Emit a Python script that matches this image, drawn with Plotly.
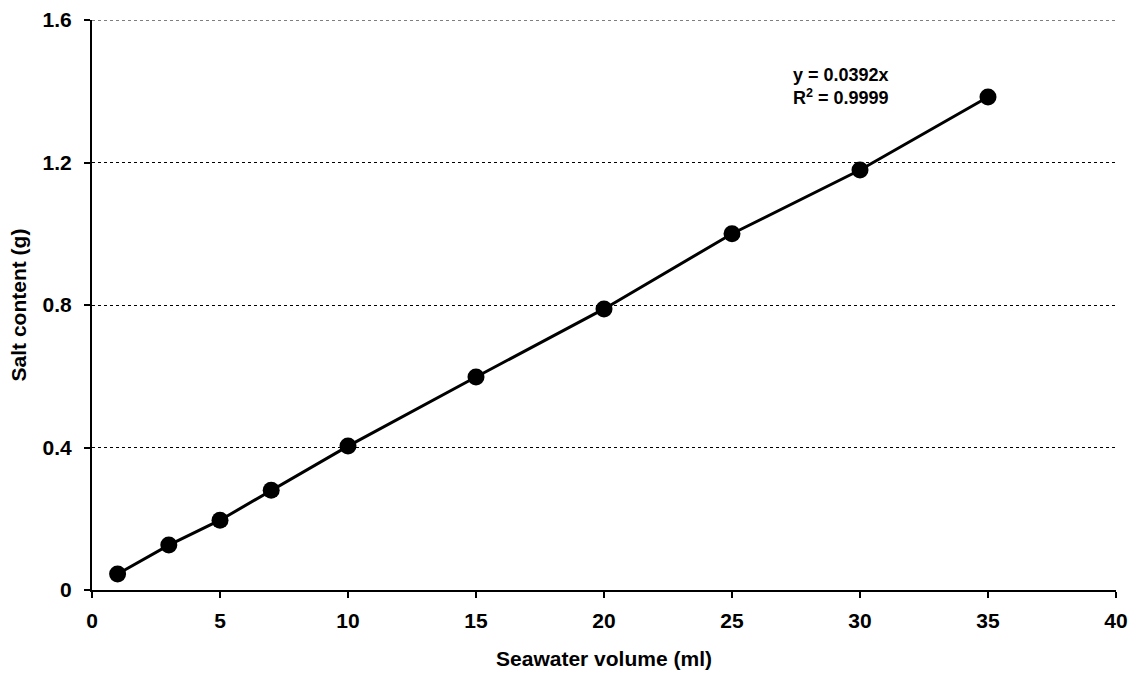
import plotly.graph_objects as go

volume_ml = [1, 3, 5, 7, 10, 15, 20, 25, 30, 35]
salt_g = [0.045, 0.126, 0.196, 0.28, 0.404, 0.598, 0.789, 1.0, 1.179, 1.384]
x_ticks = [0, 5, 10, 15, 20, 25, 30, 35, 40]
y_ticks = [0, 0.4, 0.8, 1.2, 1.6]
y_tick_labels = ["0", "0.4", "0.8", "1.2", "1.6"]

FONT = "Arial, Liberation Sans, sans-serif"

fig = go.Figure()
fig.add_trace(go.Scatter(
    x=volume_ml, y=salt_g, mode="lines+markers",
    line=dict(color="black", width=3),
    marker=dict(color="black", size=17),
    showlegend=False,
))

fig.add_annotation(
    x=27.3, y=1.48, xref="x", yref="y", xanchor="left", yanchor="top",
    text="<b>y = 0.0392x<br>R<sup>2</sup> = 0.9999</b>",
    showarrow=False, align="left",
    font=dict(family=FONT, size=18, color="black"),
)

# top gridline at the upper end of the y range
fig.add_shape(type="line", xref="paper", yref="y", x0=0, x1=1,
              y0=y_ticks[-1], y1=y_ticks[-1],
              line=dict(color="black", width=1, dash="dot"))

fig.update_layout(
    width=1145, height=677,
    margin=dict(l=92, r=29, t=20, b=87, autoexpand=False),
    paper_bgcolor="white", plot_bgcolor="white",
    font=dict(family=FONT, color="black"),
)
fig.update_xaxes(
    range=[0, 40], tickvals=x_ticks, ticktext=[f"<b>{v}</b>" for v in x_ticks],
    showline=True, linecolor="black", linewidth=2,
    ticks="outside", ticklen=6, tickwidth=2, tickcolor="black",
    ticklabelstandoff=5, automargin=False,
    showgrid=False, zeroline=False,
    tickfont=dict(family=FONT, size=21, color="black"),
    title=dict(text="<b>Seawater volume (ml)</b>", font=dict(family=FONT, size=21, color="black"), standoff=20),
)
fig.update_yaxes(
    range=[0, 1.6], tickvals=y_ticks, ticktext=[f"<b>{t}</b>" for t in y_tick_labels],
    showline=True, linecolor="black", linewidth=2,
    ticks="outside", ticklen=6, tickwidth=2, tickcolor="black",
    ticklabelstandoff=8, automargin=False,
    showgrid=True, gridcolor="black", gridwidth=1, griddash="dot",
    zeroline=False,
    tickfont=dict(family=FONT, size=21, color="black"),
    title=dict(text="<b>Salt content (g)</b>", font=dict(family=FONT, size=21, color="black"), standoff=10),
)

fig.write_html("out.html")
